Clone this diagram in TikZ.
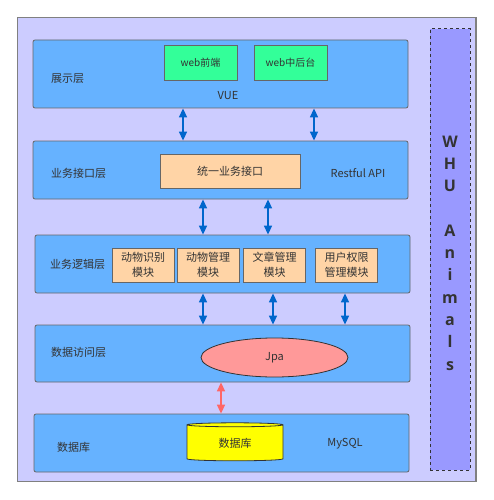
\documentclass[tikz,border=0pt]{standalone}
\usepackage{fontspec}
\setmainfont{Noto Sans CJK SC}
\newfontfamily\whufont{Open Sans}
\usetikzlibrary{shapes.geometric,arrows.meta}

\definecolor{bgpurple}{HTML}{CCCCFF}
\definecolor{layerblue}{HTML}{66B2FF}
\definecolor{webgreen}{HTML}{33FF99}
\definecolor{modpeach}{HTML}{FFD4A6}
\definecolor{jpared}{HTML}{FF9999}
\definecolor{dbyellow}{HTML}{FFFF00}
\definecolor{sidebar}{HTML}{9999FF}
\definecolor{arrowblue}{HTML}{0066CC}
\definecolor{arrowred}{HTML}{FF6666}
\definecolor{txtgray}{HTML}{333333}
\definecolor{edgegray}{HTML}{666666}

\tikzset{
  layer/.style={draw=edgegray, fill=layerblue, rounded corners=2pt, line width=0.8pt,
    minimum width=375pt, inner sep=0pt},
  webbox/.style={draw=edgegray, fill=webgreen, line width=0.8pt, minimum width=73pt,
    minimum height=35pt, inner sep=0pt, text=txtgray, font=\fontsize{10}{12}\selectfont},
  modbox/.style={draw=edgegray, fill=modpeach, line width=0.8pt, minimum width=62pt,
    minimum height=34pt, inner sep=0pt, align=center, text=txtgray,
    font=\fontsize{11}{15}\selectfont},
  txt/.style={text=txtgray, inner sep=0pt, font=\fontsize{11}{13}\selectfont},
  barrow/.style={{Triangle[width=8pt,length=9pt]}-{Triangle[width=8pt,length=9pt]},
    draw=arrowblue, line width=1.5pt},
  rarrow/.style={{Triangle[width=8pt,length=9pt]}-{Triangle[width=8pt,length=9pt]},
    draw=arrowred, line width=1.5pt},
}

\begin{document}
\begin{tikzpicture}[x=1pt, y=-1pt]
\useasboundingbox (0,0) rectangle (494,500);
% background and side bar
\node[draw=gray, fill=bgpurple, line width=1.2pt, minimum width=458.5pt,
  minimum height=464pt, inner sep=0pt] (frame) at (246.75,249.5) {};
\node[draw=txtgray, fill=sidebar, dashed, line width=1pt, minimum width=40pt,
  minimum height=441pt, inner sep=0pt] (side) at (450,249.5) {};
\node[text=txtgray, align=center, inner sep=0pt,
  font=\whufont\bfseries\fontsize{16}{22.3}\selectfont] (whu) at (450,253)
  {W\\H\\U\\ \\A\\n\\i\\m\\a\\l\\s};

% layers
\node[layer, minimum height=68pt] (show) at (220.5,74) {};
\node[layer, minimum height=58pt] (api) at (220.5,170) {};
\node[layer, minimum height=58pt] (logic) at (222.5,264) {};
\node[layer, minimum height=57pt] (dao) at (222.5,353.5) {};
\node[layer, minimum height=58pt] (dbl) at (221.5,443) {};

% presentation
\node[txt, anchor=west] (showlbl) at (51,79) {展示层};
\node[webbox] (front) at (200.5,62.5) {web前端};
\node[webbox] (admin) at (290.5,62.5) {web中后台};
\node[txt] (vue) at (228,96) {VUE};

% interface
\node[txt, anchor=west] (apilbl) at (51,173) {业务接口层};
\node[draw=edgegray, fill=modpeach, line width=0.8pt, minimum width=140pt,
  minimum height=34pt, inner sep=0pt, text=txtgray, font=\fontsize{11}{13}\selectfont]
  (unify) at (230,171) {统一业务接口};
\node[txt] (rest) at (358,173) {Restful API};

% logic
\node[txt, anchor=west] (logiclbl) at (50,264) {业务逻辑层};
\node[modbox] (recog) at (143,265) {动物识别\\模块};
\node[modbox] (animal) at (208,265) {动物管理\\模块};
\node[modbox] (article) at (274.5,265) {文章管理\\模块};
\node[modbox] (auth) at (346.5,265) {用户权限\\管理模块};

% data access
\node[txt, anchor=west] (daolbl) at (51,352) {数据访问层};
\node[ellipse, draw=txtgray, fill=jpared, line width=0.8pt, minimum width=147pt,
  minimum height=39pt, inner sep=0pt, text=txtgray, font=\fontsize{11}{13}\selectfont]
  (jpa) at (274.5,357.5) {Jpa};

% database
\node[txt, anchor=west] (dblbl) at (57,447) {数据库};
\node[cylinder, shape border rotate=90, aspect=0.12, draw=txtgray, fill=dbyellow,
  line width=0.8pt, minimum width=96pt, minimum height=38pt, inner sep=0pt,
  text=txtgray, font=\fontsize{11}{13}\selectfont] (db) at (235,443) {数据库};
\node[txt] (mysql) at (345,444) {MySQL};

% connectors
\draw[barrow] (show.south -| 183,0) -- (api.north -| 183,0);
\draw[barrow] (show.south -| 314,0) -- (api.north -| 314,0);
\draw[barrow] (api.south -| 203,0) -- (logic.north -| 203,0);
\draw[barrow] (api.south -| 268,0) -- (logic.north -| 268,0);
\draw[barrow] (logic.south -| 203,0) -- (dao.north -| 203,0);
\draw[barrow] (logic.south -| 273,0) -- (dao.north -| 273,0);
\draw[barrow] (logic.south -| 345,0) -- (dao.north -| 345,0);
\draw[rarrow] (dao.south -| 221,0) -- (dbl.north -| 221,0);
\end{tikzpicture}
\end{document}
